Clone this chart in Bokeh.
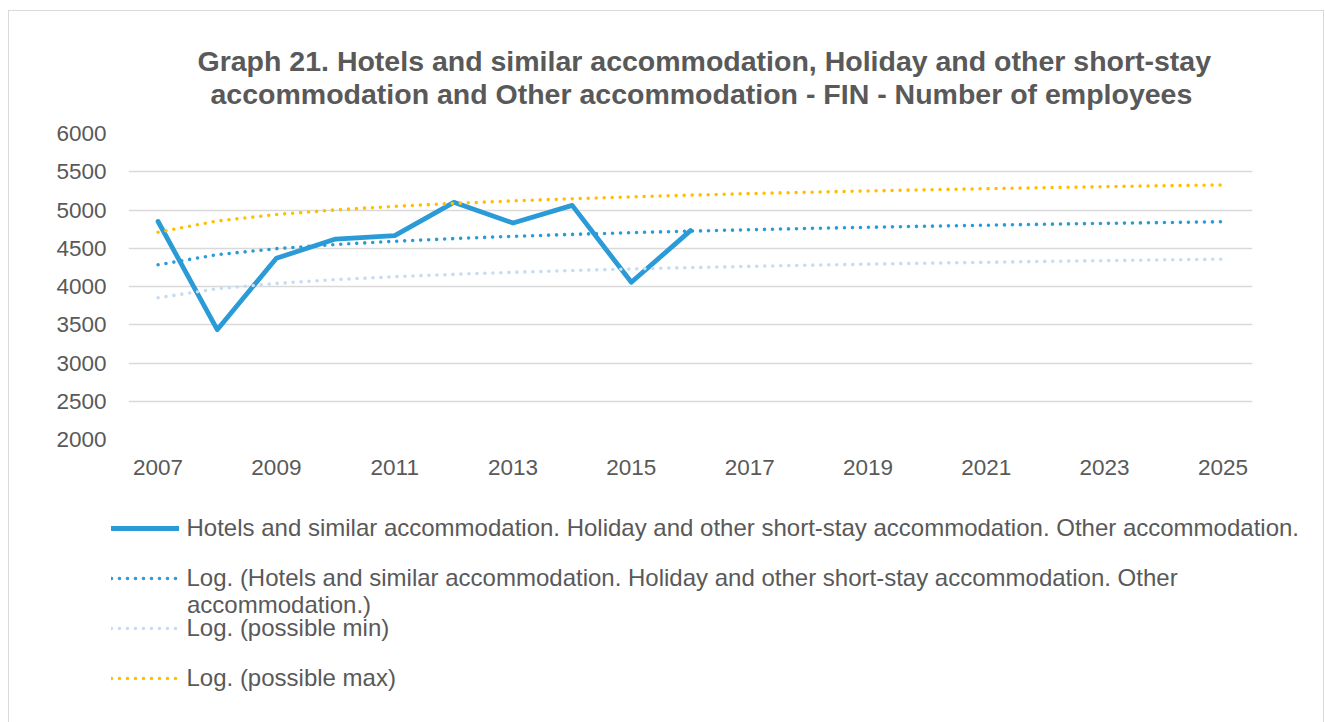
from bokeh.plotting import figure
from bokeh.layouts import column
from bokeh.models import Range1d, FixedTicker, Legend, LegendItem, Label, Title, PrintfTickFormatter
from bokeh.embed import file_html
from bokeh.resources import INLINE

# ---------------- data ----------------
years = [2007, 2008, 2009, 2010, 2011, 2012, 2013, 2014, 2015, 2016]
employees = [4850, 3435, 4370, 4620, 4665, 5100, 4830, 5060, 4055, 4730]

trend_years = [2007, 2008, 2009, 2010, 2011, 2012, 2013, 2014, 2015, 2016,
               2017, 2018, 2019, 2020, 2021, 2022, 2023, 2024, 2025]
trend_log = [4284, 4416, 4494, 4549, 4591, 4626, 4656, 4681, 4704, 4724,
             4742, 4759, 4774, 4788, 4801, 4814, 4825, 4836, 4846]
trend_min = [3852, 3971, 4040, 4090, 4128, 4159, 4186, 4209, 4229, 4247,
             4263, 4278, 4292, 4305, 4316, 4328, 4338, 4348, 4357]
trend_max = [4710, 4856, 4941, 5001, 5048, 5086, 5119, 5147, 5171, 5194,
             5214, 5232, 5249, 5264, 5279, 5292, 5305, 5317, 5328]

x_ticks = [2007, 2009, 2011, 2013, 2015, 2017, 2019, 2021, 2023, 2025]
y_ticks = [2000, 2500, 3000, 3500, 4000, 4500, 5000, 5500, 6000]

title_line1 = "Graph 21. Hotels and similar accommodation, Holiday and other short-stay"
title_line2 = "accommodation and Other accommodation - FIN - Number of employees"
series_label = ("Hotels and similar accommodation. Holiday and other short-stay "
                "accommodation. Other accommodation.")
trend_label_line1 = ("Log. (Hotels and similar accommodation. Holiday and other "
                     "short-stay accommodation. Other")
trend_label_line2 = "accommodation.)"
min_label = "Log. (possible min)"
max_label = "Log. (possible max)"

# ---------------- style ----------------
TEXT = "#595959"
GRID = "#D9D9D9"
BLUE = "#2A9BD6"
LIGHT_BLUE = "#C6DCF1"
ORANGE = "#FFC000"
FONT = "Liberation Sans"

W = 1314
H_CHART = 479
H_LEGEND = 232

# ---------------- chart ----------------
p = figure(width=W, height=H_CHART, output_backend="svg", toolbar_location=None,
           x_range=Range1d(2006.5, 2025.5), y_range=Range1d(2000, 6000),
           min_border_left=119, min_border_right=71,
           min_border_top=122, min_border_bottom=51)
p.outline_line_color = None
p.background_fill_color = "white"
p.border_fill_color = "white"

# titles (inner line added first -> closest to the frame)
t2 = Title(text=title_line2, align="left", offset=82, standoff=48,
           text_font=FONT, text_font_size="28.5px", text_font_style="bold",
           text_color=TEXT)
t1 = Title(text=title_line1, align="left", offset=69, standoff=-50,
           text_font=FONT, text_font_size="28.5px", text_font_style="bold",
           text_color=TEXT)
p.add_layout(t2, "above")
p.add_layout(t1, "above")

# axes
p.xaxis.ticker = FixedTicker(ticks=x_ticks)
p.yaxis.ticker = FixedTicker(ticks=y_ticks)
p.xaxis.formatter = PrintfTickFormatter(format="%d")
p.yaxis.formatter = PrintfTickFormatter(format="%d")
for ax in (p.xaxis[0], p.yaxis[0]):
    ax.axis_line_color = None
    ax.major_tick_line_color = None
    ax.minor_tick_line_color = None
    ax.major_tick_out = 0
    ax.major_tick_in = 0
    ax.minor_tick_out = 0
    ax.minor_tick_in = 0
    ax.major_label_text_font = FONT
    ax.major_label_text_font_size = "22.5px"
    ax.major_label_text_color = TEXT
p.xaxis.major_label_standoff = 20
p.yaxis.major_label_standoff = 22

p.xgrid.grid_line_color = None
p.ygrid.grid_line_color = GRID
p.ygrid.grid_line_width = 1.5

line_styles = dict(
    series=dict(line_color=BLUE, line_width=4.8, line_join="round", line_cap="round"),
    log=dict(line_color=BLUE, line_width=3.6, line_dash="0 8", line_cap="round"),
    lo=dict(line_color=LIGHT_BLUE, line_width=3.6, line_dash="0 8", line_cap="round"),
    hi=dict(line_color=ORANGE, line_width=3.6, line_dash="0 8", line_cap="round"),
)

p.line(years, employees, **line_styles["series"])
p.line(trend_years, trend_log, **line_styles["log"])
p.line(trend_years, trend_min, **line_styles["lo"])
p.line(trend_years, trend_max, **line_styles["hi"])

# ---------------- legend panel (below the chart) ----------------
q = figure(width=W, height=H_LEGEND, output_backend="svg", toolbar_location=None,
           x_range=Range1d(0, 1), y_range=Range1d(0, 1),
           x_axis_location=None, y_axis_location=None,
           min_border_left=0, min_border_right=0, min_border_top=0, min_border_bottom=0)
q.frame_align = False
q.outline_line_color = None
q.xgrid.visible = False
q.ygrid.visible = False
q.background_fill_color = "white"
q.border_fill_color = "white"

# same series, drawn outside this panel's ranges: only their legend swatches show
l_emp = q.line(years, employees, **line_styles["series"])
l_log = q.line(trend_years, trend_log, **line_styles["log"])
l_min = q.line(trend_years, trend_min, **line_styles["lo"])
l_max = q.line(trend_years, trend_max, **line_styles["hi"])

legend = Legend(items=[LegendItem(label=series_label, renderers=[l_emp]),
                       LegendItem(label=trend_label_line1, renderers=[l_log]),
                       LegendItem(label=min_label, renderers=[l_min]),
                       LegendItem(label=max_label, renderers=[l_max])],
                location=(101.5, 29.5), orientation="vertical",
                padding=0, margin=0, spacing=20,
                glyph_width=68, glyph_height=30, label_height=30,
                label_standoff=8,
                border_line_color=None, background_fill_alpha=0,
                label_text_font=FONT, label_text_font_size="24px",
                label_text_color=TEXT)
q.add_layout(legend)

wrap = Label(x=177.5, y=118, x_units="screen", y_units="screen",
             text=trend_label_line2, text_font=FONT, text_font_size="24px",
             text_color=TEXT, text_baseline="middle", text_align="left")
q.add_layout(wrap)

layout = column(p, q, spacing=0,
                styles={"margin-left": "8px", "margin-top": "10px",
                        "border-left": "1px solid #D9D9D9",
                        "border-top": "1px solid #D9D9D9",
                        "border-right": "1px solid #D9D9D9"})

open("out.html", "w").write(file_html(layout, INLINE))
